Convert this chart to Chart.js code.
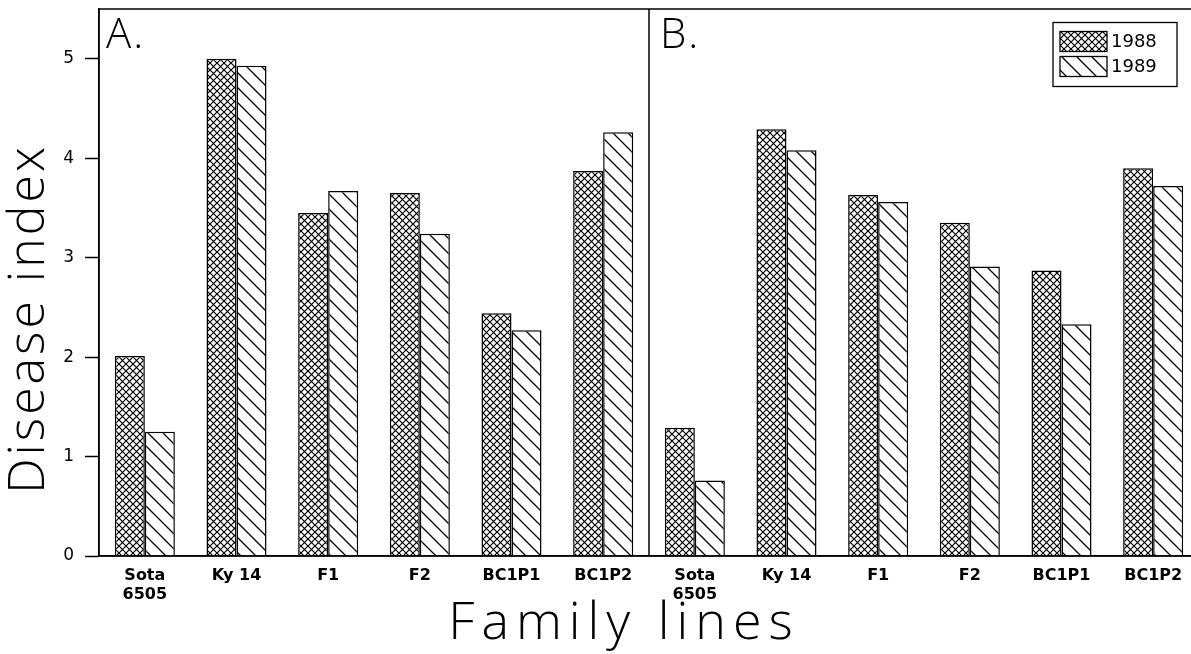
<!DOCTYPE html>
<html>
<head>
<meta charset="utf-8">
<script src="https://cdn.jsdelivr.net/npm/chart.js@4/dist/chart.umd.min.js"></script>
<style>
  html, body { margin: 0; padding: 0; background: #fff; overflow: hidden; }
  #wrap { width: 1200px; height: 654px; position: relative; }
</style>
</head>
<body>
<div id="wrap"><canvas id="diseaseChart"></canvas></div>
<script>
  // family lines, shown once per panel
  const families = [['Sota', '6505'], 'Ky 14', 'F1', 'F2', 'BC1P1', 'BC1P2'];
  const years = ['1988', '1989'];
  const panelNames = ['A.', 'B.'];

  // disease index, panel A and panel B
  const panelA1988 = [2.01, 5.00, 3.45, 3.65, 2.44, 3.87];
  const panelA1989 = [1.25, 4.93, 3.67, 3.24, 2.27, 4.26];
  const panelB1988 = [1.29, 4.29, 3.63, 3.35, 2.87, 3.90];
  const panelB1989 = [0.76, 4.08, 3.56, 2.91, 2.33, 3.72];

  const yTicks = [0, 1, 2, 3, 4, 5];
  const yMax = 5.5;

  function crossHatch() {
    const c = document.createElement('canvas');
    c.width = 7; c.height = 7;
    const g = c.getContext('2d');
    g.fillStyle = '#fff';
    g.fillRect(0, 0, 7, 7);
    g.strokeStyle = '#000';
    g.lineWidth = 1.2;
    g.beginPath();
    g.moveTo(-1, -1); g.lineTo(8, 8);
    g.moveTo(8, -1); g.lineTo(-1, 8);
    g.stroke();
    return g.createPattern(c, 'repeat');
  }

  function backHatch() {
    const s = 15;
    const c = document.createElement('canvas');
    c.width = s; c.height = s;
    const g = c.getContext('2d');
    g.fillStyle = '#fff';
    g.fillRect(0, 0, s, s);
    g.strokeStyle = '#000';
    g.lineWidth = 1.3;
    g.beginPath();
    g.moveTo(-1, -1); g.lineTo(s + 1, s + 1);
    g.moveTo(s - 2, -2); g.lineTo(s + 2, 2);
    g.moveTo(-2, s - 2); g.lineTo(2, s + 2);
    g.stroke();
    return g.createPattern(c, 'repeat');
  }

  const labels = families.concat(families);

  const extras = {
    id: 'extras',
    afterDraw(chart) {
      const ctx = chart.ctx;
      const a = chart.chartArea;
      const x = chart.scales.x;
      ctx.save();
      ctx.strokeStyle = '#000';
      ctx.lineWidth = 1.5;
      ctx.strokeRect(a.left, a.top, a.right - a.left, a.bottom - a.top);

      // panel divider between the two groups of six
      const mid = x.getPixelForValue(families.length - 0.5);
      ctx.beginPath();
      ctx.moveTo(mid, a.top);
      ctx.lineTo(mid, a.bottom);
      ctx.stroke();

      // panel letters
      ctx.fillStyle = '#000';
      ctx.font = '300 42px "Open Sans"';
      ctx.textBaseline = 'top';
      ctx.textAlign = 'left';
      ctx.letterSpacing = '2px';
      ctx.fillText(panelNames[0], a.left + 7, a.top + 6);
      ctx.fillText(panelNames[1], mid + 11, a.top + 6);
      ctx.letterSpacing = '0px';

      // legend box
      const lx = a.right - 146, ly = a.top + 13.5;
      ctx.lineWidth = 1.3;
      ctx.strokeRect(lx, ly, 124, 64);
      ctx.font = '18px "DejaVu Sans"';
      ctx.textBaseline = 'middle';
      chart.data.datasets.forEach((ds, i) => {
        const sy = ly + 9 + i * 25;
        ctx.fillStyle = ds.backgroundColor;
        ctx.fillRect(lx + 7, sy, 47, 20);
        ctx.strokeRect(lx + 7, sy, 47, 20);
        ctx.fillStyle = '#000';
        ctx.fillText(ds.label, lx + 58, sy + 11);
      });

      // axis titles
      ctx.textAlign = 'center';
      ctx.textBaseline = 'middle';
      ctx.font = '300 52px "Open Sans"';
      ctx.letterSpacing = '7px';
      ctx.fillText('Family lines', 624, 624);
      ctx.font = '300 50px "Open Sans"';
      ctx.letterSpacing = '3px';
      ctx.translate(30, 321);
      ctx.rotate(-Math.PI / 2);
      ctx.fillText('Disease index', 2, 0);
      ctx.restore();
    }
  };

  new Chart(document.getElementById('diseaseChart'), {
    type: 'bar',
    data: {
      labels: labels,
      datasets: [{
        label: years[0],
        data: panelA1988.concat(panelB1988),
        backgroundColor: crossHatch(),
        borderColor: '#000',
        borderWidth: 1.5
      }, {
        label: years[1],
        data: panelA1989.concat(panelB1989),
        backgroundColor: backHatch(),
        borderColor: '#000',
        borderWidth: 1.5
      }]
    },
    options: {
      responsive: true,
      maintainAspectRatio: false,
      animation: false,
      devicePixelRatio: 1,
      layout: { padding: { top: 9, right: 1, left: 0, bottom: 0 } },
      datasets: {
        bar: { categoryPercentage: 0.655, barPercentage: 1 }
      },
      plugins: {
        legend: { display: false },
        tooltip: { enabled: false }
      },
      scales: {
        x: {
          grid: { display: false },
          border: { display: true, color: '#000', width: 1.5 },
          ticks: {
            color: '#000',
            font: { family: 'DejaVu Sans', size: 16, weight: 'bold' },
            maxRotation: 0,
            autoSkip: false,
            padding: 2
          },
          afterFit(scale) { scale.height = 98; }
        },
        y: {
          min: 0,
          max: yMax,
          afterBuildTicks(scale) {
            scale.ticks = yTicks.map(v => ({ value: v }));
          },
          grid: {
            drawOnChartArea: false,
            drawTicks: true,
            tickLength: 14,
            tickColor: '#000',
            tickWidth: 1.5
          },
          border: { display: true, color: '#000', width: 1.5 },
          ticks: {
            color: '#000',
            font: { family: 'DejaVu Sans', size: 17, lineHeight: 0.2 },
            padding: 11
          },
          afterFit(scale) {
            scale.width = 99;
            scale.paddingTop = 0;
            scale.paddingBottom = 0;
          }
        }
      }
    },
    plugins: [extras]
  });
</script>
</body>
</html>
